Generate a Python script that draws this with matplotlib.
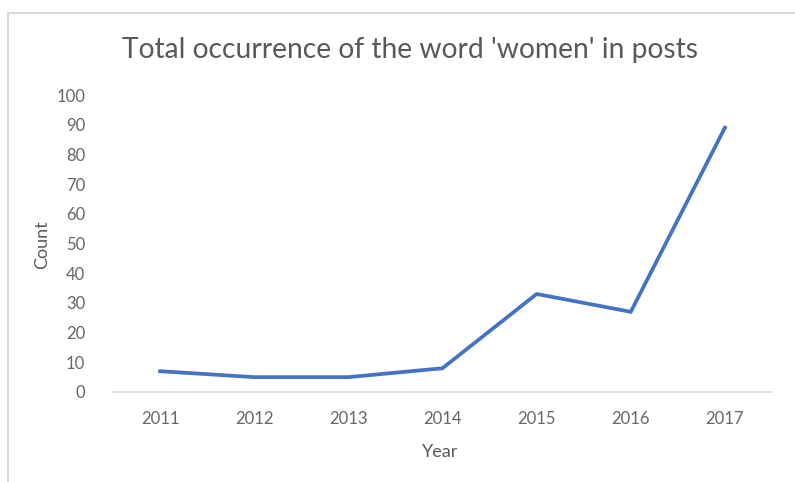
import matplotlib.pyplot as plt
from matplotlib.patches import Rectangle

# data
years = ['2011', '2012', '2013', '2014', '2015', '2016', '2017']
counts = [7, 5, 5, 8, 33, 27, 89]

plt.rcParams['font.family'] = ['Lato', 'DejaVu Sans']
grey = '#595959'

fig = plt.figure(figsize=(7.95, 4.82), dpi=100)
W, H = 795, 482

# light chart-area border like the Excel frame
fig.patches.append(Rectangle((8 / W, -0.05), 1.1, 1 - 13 / H + 0.05,
                             transform=fig.transFigure, fill=False,
                             edgecolor='#d9d9d9', linewidth=1.5))

ax = fig.add_axes([113 / W, 1 - 392 / H, (772 - 113) / W, (392 - 95) / H])
x = range(len(years))
ax.plot(x, counts, color='#4472C4', linewidth=2.7, solid_joinstyle='miter')

ax.set_xlim(-0.5, len(years) - 0.5)
ax.set_ylim(0, 100)
ax.set_yticks(range(0, 101, 10))
ax.set_xticks(list(x))
ax.set_xticklabels(years)

for s in ['top', 'right', 'left']:
    ax.spines[s].set_visible(False)
ax.spines['bottom'].set_color('#d9d9d9')
ax.spines['bottom'].set_linewidth(1.2)
ax.tick_params(length=0, labelsize=12, labelcolor='#666666')
ax.tick_params(axis='y', pad=20)
ax.tick_params(axis='x', pad=14)

fig.text(410 / W, 1 - 50 / H, "Total occurrence of the word 'women' in posts",
         ha='center', va='center', fontsize=20.3, color=grey)
fig.text(42 / W, 1 - 245 / H, 'Count', rotation=90, ha='center', va='center',
         fontsize=13, color=grey)
fig.text(440 / W, 1 - 452 / H, 'Year', ha='center', va='center',
         fontsize=13, color=grey)

fig.savefig('out.png', dpi=100)
